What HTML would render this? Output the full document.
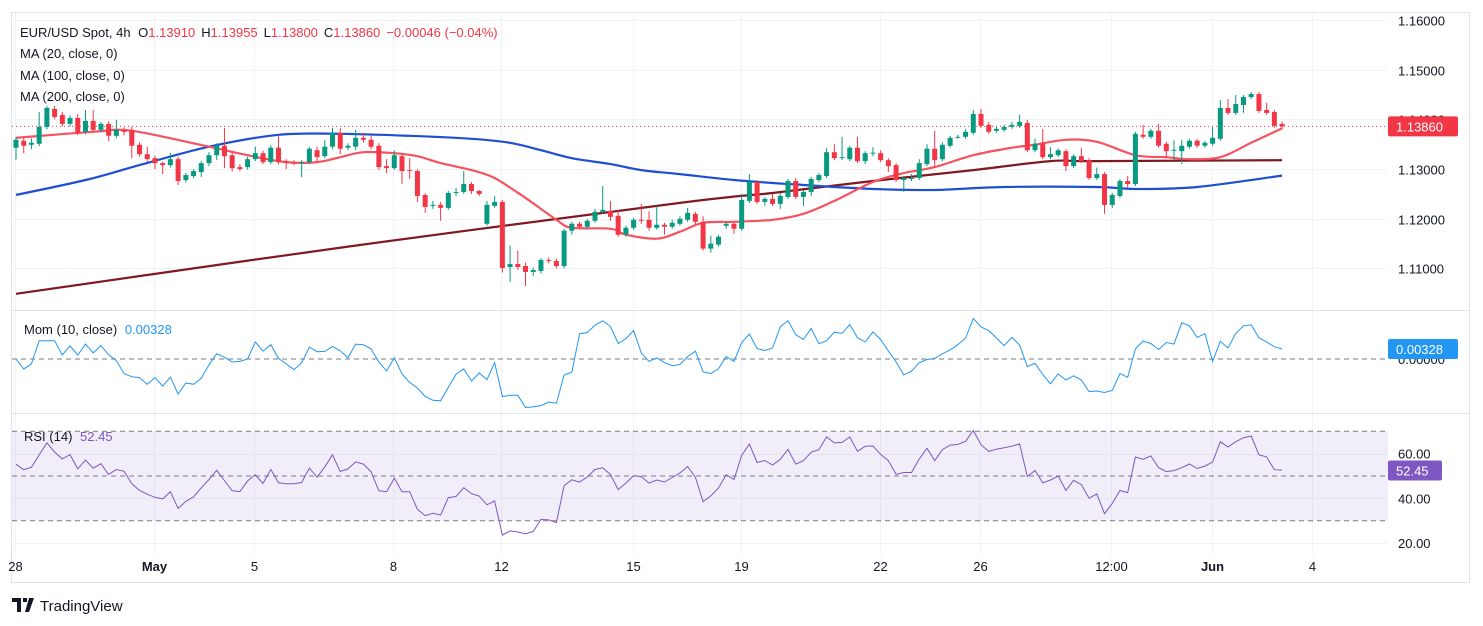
<!DOCTYPE html>
<html><head><meta charset="utf-8">
<style>
html,body{margin:0;padding:0;background:#fff;width:1483px;height:626px;overflow:hidden;font-family:"Liberation Sans",sans-serif;}
svg text{font-family:"Liberation Sans",sans-serif;}
</style></head>
<body>
<svg id="chart" width="1483" height="626" viewBox="0 0 1483 626" xmlns="http://www.w3.org/2000/svg">
<defs>
<clipPath id="plotClip"><rect x="12" y="13" width="1376" height="297"/></clipPath>
<clipPath id="momClip"><rect x="12" y="311" width="1376" height="101"/></clipPath>
<clipPath id="rsiClip"><rect x="12" y="414" width="1376" height="141"/></clipPath>
</defs>
<rect x="11.5" y="12.5" width="1458" height="570" fill="#fff" stroke="#e0e3eb"/>
<g id="grid"></g>
<g id="rsiBg"></g>
<g id="main" clip-path="url(#plotClip)"></g>
<g id="mom" clip-path="url(#momClip)"></g>
<g id="rsi" clip-path="url(#rsiClip)"></g>
<line x1="11" y1="310.5" x2="1470" y2="310.5" stroke="#e0e3eb"/>
<line x1="11" y1="413.5" x2="1470" y2="413.5" stroke="#e0e3eb"/>
<g id="axes" font-size="13" fill="#131722"></g>
<g font-size="13">
<text x="20" y="37" fill="#131722">EUR/USD Spot, 4h <tspan dx="4" fill="#131722">O</tspan><tspan fill="#f23645">1.13910</tspan><tspan dx="6" fill="#131722">H</tspan><tspan fill="#f23645">1.13955</tspan><tspan dx="6" fill="#131722">L</tspan><tspan fill="#f23645">1.13800</tspan><tspan dx="6" fill="#131722">C</tspan><tspan fill="#f23645">1.13860</tspan><tspan dx="6" fill="#f23645">−0.00046 (−0.04%)</tspan></text>
<text x="20" y="58" fill="#131722">MA (20, close, 0)</text>
<text x="20" y="80" fill="#131722">MA (100, close, 0)</text>
<text x="20" y="101" fill="#131722">MA (200, close, 0)</text>
<text x="24" y="334" fill="#131722">Mom (10, close) <tspan dx="4" fill="#2196f3">0.00328</tspan></text>
<text x="24" y="441" fill="#131722">RSI (14) <tspan dx="4" fill="#7e57c2">52.45</tspan></text>
</g>
<g>
<path d="M12 598h9v14h-4v-10h-5z M23 598h4v4h-4z M29 598h5l-5 14h-4z" fill="#131722"/>
<text x="40" y="611" font-size="15" fill="#131722">TradingView</text>
</g>
</svg>
<script>
const opens=[1.1343,1.1357,1.1349,1.1351,1.1385,1.1421,1.1409,1.1391,1.1403,1.1375,1.1397,1.1379,1.1391,1.1367,1.1379,1.1379,1.1349,1.1330,1.1322,1.1312,1.1308,1.1320,1.1278,1.1286,1.1294,1.1312,1.1328,1.1347,1.1328,1.1304,1.1304,1.1320,1.1332,1.1314,1.1343,1.1316,1.1314,1.1312,1.1314,1.1338,1.1326,1.1345,1.1373,1.1343,1.1345,1.1363,1.1359,1.1347,1.1306,1.1302,1.1326,1.1298,1.1296,1.1248,1.1226,1.1228,1.1222,1.1252,1.1254,1.1270,1.1256,1.1190,1.1226,1.1234,1.1103,1.1109,1.1105,1.1093,1.1095,1.1117,1.1115,1.1105,1.1176,1.1190,1.1184,1.1196,1.1214,1.1216,1.1206,1.1168,1.1182,1.1198,1.1198,1.1182,1.1188,1.1184,1.1190,1.1198,1.1210,1.1194,1.1140,1.1148,1.1186,1.1190,1.1180,1.1236,1.1274,1.1234,1.1240,1.1230,1.1244,1.1276,1.1244,1.1254,1.1278,1.1286,1.1334,1.1322,1.1320,1.1343,1.1316,1.1332,1.1332,1.1318,1.1308,1.1278,1.1280,1.1282,1.1310,1.1341,1.1320,1.1347,1.1363,1.1365,1.1373,1.1411,1.1389,1.1377,1.1379,1.1385,1.1387,1.1393,1.1338,1.1351,1.1324,1.1328,1.1336,1.1306,1.1326,1.1318,1.1282,1.1290,1.1228,1.1246,1.1276,1.1270,1.1369,1.1365,1.1377,1.1351,1.1338,1.1336,1.1345,1.1357,1.1347,1.1351,1.1361,1.1423,1.1413,1.1429,1.1445,1.1451,1.1419,1.1415,1.1391];
const closes=[1.1359,1.1347,1.1353,1.1385,1.1423,1.1405,1.1391,1.1403,1.1373,1.1397,1.1379,1.1391,1.1367,1.1379,1.1375,1.1347,1.1330,1.1320,1.1312,1.1308,1.1320,1.1276,1.1288,1.1296,1.1312,1.1328,1.1347,1.1326,1.1302,1.1300,1.1320,1.1332,1.1314,1.1343,1.1314,1.1312,1.1312,1.1314,1.1341,1.1324,1.1345,1.1373,1.1341,1.1347,1.1363,1.1359,1.1345,1.1304,1.1302,1.1328,1.1296,1.1296,1.1246,1.1224,1.1228,1.1222,1.1252,1.1254,1.1270,1.1256,1.1250,1.1228,1.1234,1.1101,1.1109,1.1103,1.1093,1.1097,1.1117,1.1115,1.1105,1.1176,1.1190,1.1184,1.1196,1.1214,1.1218,1.1204,1.1168,1.1182,1.1198,1.1196,1.1182,1.1188,1.1184,1.1192,1.1200,1.1212,1.1194,1.1140,1.1150,1.1164,1.1190,1.1180,1.1238,1.1274,1.1234,1.1240,1.1230,1.1246,1.1276,1.1244,1.1254,1.1280,1.1288,1.1334,1.1322,1.1324,1.1343,1.1316,1.1332,1.1333,1.1318,1.1306,1.1278,1.1282,1.1282,1.1312,1.1341,1.1318,1.1349,1.1363,1.1365,1.1375,1.1411,1.1387,1.1375,1.1381,1.1385,1.1389,1.1395,1.1338,1.1351,1.1324,1.1330,1.1338,1.1306,1.1326,1.1316,1.1282,1.1290,1.1228,1.1248,1.1276,1.1270,1.1371,1.1365,1.1377,1.1347,1.1336,1.1339,1.1347,1.1357,1.1347,1.1353,1.1363,1.1423,1.1413,1.1431,1.1445,1.1451,1.1417,1.1413,1.1387,1.1386];
const highs=[1.1364,1.1362,1.1362,1.1415,1.1427,1.1427,1.1415,1.1408,1.1411,1.1419,1.1419,1.1395,1.1396,1.1399,1.1384,1.1385,1.1354,1.1345,1.1327,1.1315,1.1333,1.1325,1.1292,1.1300,1.1316,1.1334,1.1352,1.1383,1.1335,1.1310,1.1325,1.1345,1.1337,1.1348,1.1366,1.1320,1.1318,1.1318,1.1345,1.1345,1.1358,1.1383,1.1383,1.1352,1.1379,1.1373,1.1368,1.1352,1.1320,1.1338,1.1330,1.1322,1.1300,1.1252,1.1236,1.1234,1.1256,1.1262,1.1296,1.1274,1.1258,1.1236,1.1246,1.1238,1.1146,1.1136,1.1112,1.1102,1.1121,1.1122,1.1120,1.1180,1.1194,1.1194,1.1200,1.1220,1.1266,1.1236,1.1218,1.1186,1.1202,1.1230,1.1215,1.1226,1.1192,1.1198,1.1205,1.1222,1.1214,1.1205,1.1166,1.1168,1.1194,1.1194,1.1250,1.1290,1.1278,1.1244,1.1250,1.1252,1.1280,1.1282,1.1258,1.1284,1.1292,1.1343,1.1350,1.1365,1.1347,1.1365,1.1336,1.1344,1.1338,1.1322,1.1312,1.1286,1.1290,1.1320,1.1350,1.1377,1.1354,1.1367,1.1369,1.1381,1.1419,1.1421,1.1395,1.1385,1.1389,1.1395,1.1409,1.1399,1.1361,1.1381,1.1344,1.1342,1.1340,1.1330,1.1343,1.1322,1.1303,1.1294,1.1252,1.1280,1.1286,1.1375,1.1389,1.1381,1.1391,1.1355,1.1358,1.1359,1.1361,1.1361,1.1357,1.1385,1.1439,1.1441,1.1449,1.1449,1.1455,1.1455,1.1433,1.1419,1.13955];
const lows=[1.1318,1.1332,1.1340,1.1346,1.1380,1.1400,1.1386,1.1386,1.1368,1.1370,1.1374,1.1374,1.1356,1.1362,1.1368,1.1322,1.1325,1.1315,1.1300,1.1290,1.1303,1.1268,1.1273,1.1282,1.1284,1.1306,1.1318,1.1302,1.1295,1.1296,1.1299,1.1316,1.1310,1.1310,1.1310,1.1300,1.1308,1.1284,1.1310,1.1316,1.1322,1.1340,1.1330,1.1338,1.1338,1.1353,1.1340,1.1298,1.1292,1.1298,1.1270,1.1280,1.1234,1.1212,1.1220,1.1196,1.1218,1.1246,1.1250,1.1250,1.1246,1.1186,1.1222,1.1092,1.1073,1.1097,1.1065,1.1085,1.1090,1.1110,1.1100,1.1100,1.1168,1.1180,1.1180,1.1192,1.1210,1.1196,1.1164,1.1164,1.1178,1.1190,1.1176,1.1178,1.1168,1.1180,1.1186,1.1194,1.1188,1.1136,1.1132,1.1144,1.1180,1.1170,1.1176,1.1232,1.1230,1.1226,1.1226,1.1220,1.1240,1.1240,1.1226,1.1246,1.1274,1.1282,1.1318,1.1318,1.1316,1.1312,1.1310,1.1326,1.1314,1.1294,1.1274,1.1254,1.1276,1.1278,1.1306,1.1302,1.1316,1.1343,1.1361,1.1361,1.1369,1.1383,1.1371,1.1373,1.1375,1.1381,1.1383,1.1334,1.1334,1.1320,1.1320,1.1324,1.1296,1.1302,1.1312,1.1278,1.1278,1.1210,1.1222,1.1242,1.1262,1.1266,1.1361,1.1361,1.1343,1.1322,1.1318,1.1310,1.1341,1.1343,1.1343,1.1347,1.1357,1.1409,1.1409,1.1413,1.1441,1.1413,1.1409,1.1383,1.1380];
const priorCloses=[1.1330,1.1345,1.1360,1.1340,1.1359,1.1380,1.1369,1.1325,1.1363,1.1345,1.1378,1.1360,1.1360,1.1348];
const ma20Idx=[0,10,15,25,30,35,39,42,45,49,52,55,59,62,66,70,72,77,79,83,86,89,93,98,102,106,111,115,119,124,129,132,136,140,145,149,152,156,160,164];
const ma20Val=[1.1363,1.1375,1.1377,1.1345,1.1328,1.1314,1.1314,1.1324,1.1334,1.1332,1.1326,1.1312,1.1298,1.1282,1.1242,1.1198,1.1182,1.1180,1.1168,1.1160,1.1174,1.1192,1.1194,1.1198,1.1210,1.1236,1.1274,1.1292,1.1304,1.1328,1.1343,1.1349,1.1359,1.1355,1.1328,1.1324,1.1320,1.1324,1.1353,1.1382];
const ma100Idx=[0,9,16,25,34,42,51,59,64,68,72,77,81,86,93,102,111,119,128,140,145,153,164];
const ma100Val=[1.1248,1.1278,1.1308,1.1345,1.1369,1.1371,1.1367,1.1361,1.1353,1.1338,1.1322,1.1310,1.1298,1.1290,1.1278,1.1268,1.1260,1.1258,1.1264,1.1264,1.1260,1.1264,1.1287];
const ma200Idx=[0,43,86,98,111,124,134,140,164];
const ma200Val=[1.1049,1.1144,1.1232,1.1252,1.1276,1.1298,1.1316,1.1316,1.1318];
const priceTicks=["1.16000","1.15000","1.14000","1.13000","1.12000","1.11000"];
const rsiTicks=["60.00","40.00","20.00"];
const dateLabels=["28","May","5","8","12","15","19","22","26","12:00","Jun","4"];
const dateIdx=[0,18,31,49,63,80,94,112,125,142,155,168];
const lastPrice=1.1386;

const NS="http://www.w3.org/2000/svg";
function xOf(i){return 16+i*7.72;}
function yP(p){return 20+(1.16-p)*4970;}
function yM(v){return 359-v*3049;}
function yR(r){return 476-(r-50)*2.24;}
function mk(tag,attrs,parent){const e=document.createElementNS(NS,tag);for(const k in attrs)e.setAttribute(k,attrs[k]);parent.appendChild(e);return e;}
const grid=document.getElementById('grid'),main=document.getElementById('main'),mom=document.getElementById('mom'),rsi=document.getElementById('rsi'),axes=document.getElementById('axes'),rsiBg=document.getElementById('rsiBg');

priceTicks.forEach(t=>{const y=Math.round(yP(parseFloat(t)))+0.5;
 const l=mk('line',{x1:12,x2:1388,y1:y,y2:y,stroke:'#f0f3fa'},grid);
 
 
 const tx=mk('text',{x:1398,y:y+5},axes);tx.textContent=t;
 
 });
[60,40,20].forEach(r=>{const y=Math.round(yR(r))+0.5;
 const l=mk('line',{x1:12,x2:1388,y1:y,y2:y,stroke:'#f0f3fa'},grid);
 
 });
rsiTicks.forEach(t=>{const tx=mk('text',{x:1398,y:yR(parseFloat(t))+5},axes);tx.textContent=t;
 
 });
dateLabels.forEach((d,k)=>{const x=Math.round(xOf(dateIdx[k]))-0.5;
 const l=mk('line',{x1:x,x2:x,y1:13,y2:555,stroke:'#f0f3fa'},grid);
 
 
 const bold=(d==='May'||d==='Jun');
 const tx=mk('text',{x:x,y:571,'text-anchor':'middle','font-weight':bold?'bold':'normal'},axes);tx.textContent=d;
 
 });
const band=mk('rect',{x:12,y:yR(70),width:1376,height:yR(30)-yR(70),fill:'rgba(126,87,194,0.1)'},rsiBg);


[70,50,30].forEach(r=>{const l=mk('line',{x1:12,x2:1388,y1:yR(r),y2:yR(r),stroke:'#787b86','stroke-dasharray':'5,4'},rsiBg);
 
 });
const zl=mk('line',{x1:12,x2:1388,y1:yM(0),y2:yM(0),stroke:'#787b86','stroke-dasharray':'5,4'},mom);



const lp=mk('line',{x1:12,x2:1388,y1:yP(lastPrice),y2:yP(lastPrice),stroke:'#f23645','stroke-dasharray':'1,3'},main);



function maPath(idx,val,color,name){
 const pts=idx.map((i,k)=>[xOf(i),yP(val[k])]);
 let d='M'+pts[0][0].toFixed(1)+' '+pts[0][1].toFixed(1);
 for(let k=0;k<pts.length-1;k++){
  const p0=pts[Math.max(0,k-1)],p1=pts[k],p2=pts[k+1],p3=pts[Math.min(pts.length-1,k+2)];
  const c1x=p1[0]+(p2[0]-p0[0])/6,c1y=p1[1]+(p2[1]-p0[1])/6;
  const c2x=p2[0]-(p3[0]-p1[0])/6,c2y=p2[1]-(p3[1]-p1[1])/6;
  d+='C'+c1x.toFixed(1)+' '+c1y.toFixed(1)+' '+c2x.toFixed(1)+' '+c2y.toFixed(1)+' '+p2[0].toFixed(1)+' '+p2[1].toFixed(1);
 }
 const p=mk('path',{d:d,fill:'none',stroke:color,'stroke-width':2.2,'stroke-linejoin':'round'},main);
 
 }
maPath(ma200Idx,ma200Val,'#801922','ma200-line');
maPath(ma100Idx,ma100Val,'#1e4fd0','ma100-line');
maPath(ma20Idx,ma20Val,'#f7525f','ma20-line');

closes.forEach((c,i)=>{const o=opens[i],up=c>=o,col=up?'#089981':'#f23645',x=xOf(i);
 const g=mk('g',{},main);
 
 
 mk('line',{x1:x,x2:x,y1:yP(highs[i]),y2:yP(lows[i]),stroke:col,'stroke-width':1},g);
 const t=yP(Math.max(o,c)),b=yP(Math.min(o,c));
 mk('rect',{x:x-2.5,y:t,width:5,height:Math.max(1,b-t),fill:col},g);});

const all=priorCloses.concat(closes),off=priorCloses.length;
let md='';closes.forEach((c,i)=>{const v=c-all[off+i-10];md+=(i?'L':'M')+xOf(i).toFixed(1)+' '+yM(v).toFixed(1);});
const mp=mk('path',{d:md,fill:'none',stroke:'#2196f3','stroke-width':1},mom);


let ag=0,al=0;for(let k=1;k<=13;k++){const ch=all[k]-all[k-1];ag+=Math.max(ch,0);al+=Math.max(-ch,0);}
ag/=13;al/=13;
let rd='';for(let j=off;j<all.length;j++){const ch=all[j]-all[j-1];ag=(ag*13+Math.max(ch,0))/14;al=(al*13+Math.max(-ch,0))/14;
 const r=al===0?100:100-100/(1+ag/al);const i=j-off;rd+=(i?'L':'M')+xOf(i).toFixed(1)+' '+yR(r).toFixed(1);}
const rp=mk('path',{d:rd,fill:'none',stroke:'#7e57c2','stroke-width':1},rsi);



function badge(y,txt,col,w,name){const g=mk('g',{},axes);
 
 
 mk('rect',{x:1388,y:y-10,width:w,height:20,rx:2,fill:col},g);
 const t=mk('text',{x:1396,y:y+5,fill:'#fff','font-size':13},g);t.textContent=txt;}
const zt=mk('text',{x:1398,y:yM(0)+5},axes);zt.textContent='0.00000';


badge(yP(lastPrice),'1.13860','#f23645',70,'last-price-badge');
badge(yM(0.00328),'0.00328','#2196f3',70,'momentum-value-badge');
badge(yR(52.45),'52.45','#7e57c2',54,'rsi-value-badge');
</script>
</body></html>
